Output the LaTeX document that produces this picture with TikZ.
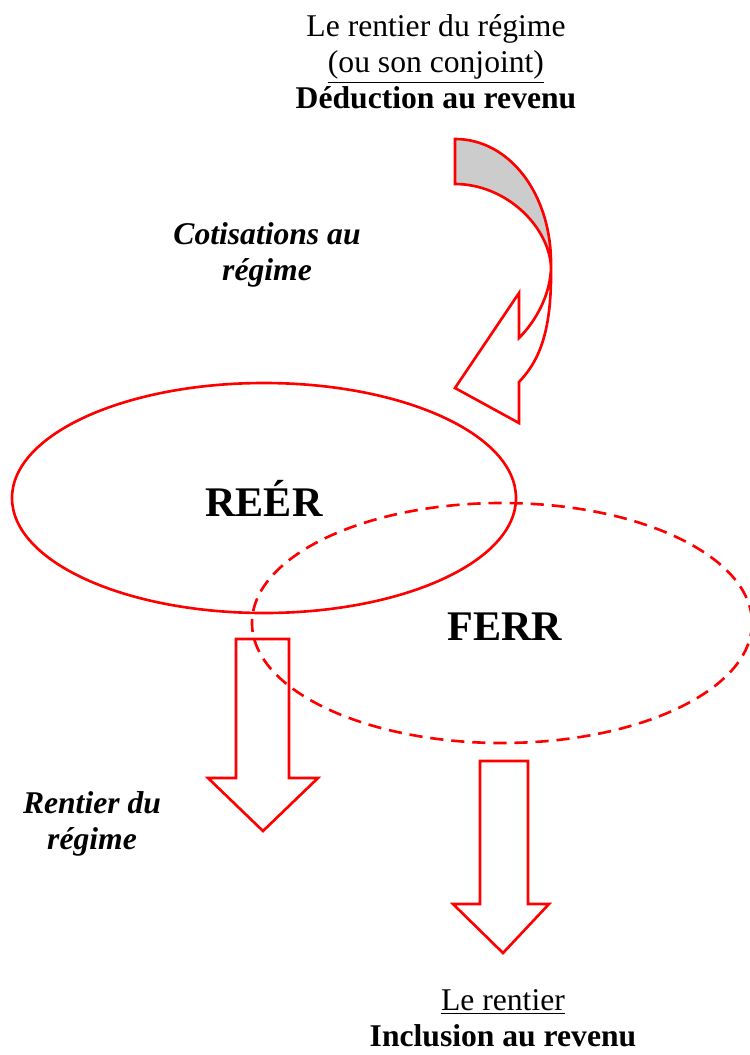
\documentclass[tikz,border=0pt]{standalone}
\usepackage{fontspec}
\setmainfont{Liberation Serif}
\usepackage{tikz}
\usetikzlibrary{calc}
\definecolor{cLine}{RGB}{255,0,0}
\definecolor{cBand}{RGB}{204,204,204}

\begin{document}
\begin{tikzpicture}[
   x=0.02cm,y=-0.02cm,
   outline/.style={draw=cLine,line width=1.5pt,line join=miter},
   dashline/.style={outline,dash pattern=on 7.5pt off 4.5pt},
   txt/.style={font=\fontsize{18}{20.4}\selectfont,align=center,inner sep=0pt},
   itxt/.style={txt,font=\fontsize{18}{20.4}\selectfont\bfseries\itshape},
   big/.style={font=\fontsize{24}{28}\selectfont\bfseries,inner sep=0pt}]
  \useasboundingbox (0,0) rectangle (750,1055);
  % labels
  \node[txt] (top) at (436,62) {Le rentier du régime\\\underline{(ou son conjoint)}\\\textbf{Déduction au revenu}};
  \node[itxt] (cotis) at (267,255) {Cotisations au\\régime};
  \node[itxt] (rent) at (92,824) {Rentier du\\régime};
  \node[txt] (bottom) at (503,1018) {\underline{Le rentier}\\\textbf{Inclusion au revenu}};
  % the two plans
  \draw[outline] (264,498) ellipse [x radius=252,y radius=115];
  \node[big] (reer) at (264,498) {REÉR};
  \draw[dashline] (502,623) ellipse [x radius=250,y radius=120];
  \node[big] (ferr) at (505,627) {FERR};
  % curved arrow into REER
  \coordinate (oA) at (455,139);
  \coordinate (iA) at (455,184);
  \coordinate (X) at (551,266);
  \coordinate (oC) at (519,382);
  \coordinate (iC) at (519,338);
  \coordinate (b1) at (519,293);
  \coordinate (tip) at (455,388);
  \coordinate (b2) at (519,423);
  \fill[cBand] (oA) .. controls (510,139) and (552,195) .. (X)
     .. controls (548,225) and (505,184) .. (iA) -- cycle;
  \draw[outline] (oA) .. controls (510,139) and (552,195) .. (X)
     .. controls (552,330) and (540,360) .. (oC) -- (b2) -- (tip) -- (b1) -- (iC)
     .. controls (535,322) and (551,295) .. (X)
     .. controls (548,225) and (505,184) .. (iA) -- cycle;
  % down arrows
  \draw[outline] (236,639) -- (289,639) -- (289,778) -- (318,778) -- (263,831)
     -- (208,778) -- (236,778) -- cycle;
  \draw[outline] (480,761) -- (528,761) -- (528,904) -- (549,904) -- (503,953)
     -- (453,904) -- (480,904) -- cycle;
\end{tikzpicture}
\end{document}
